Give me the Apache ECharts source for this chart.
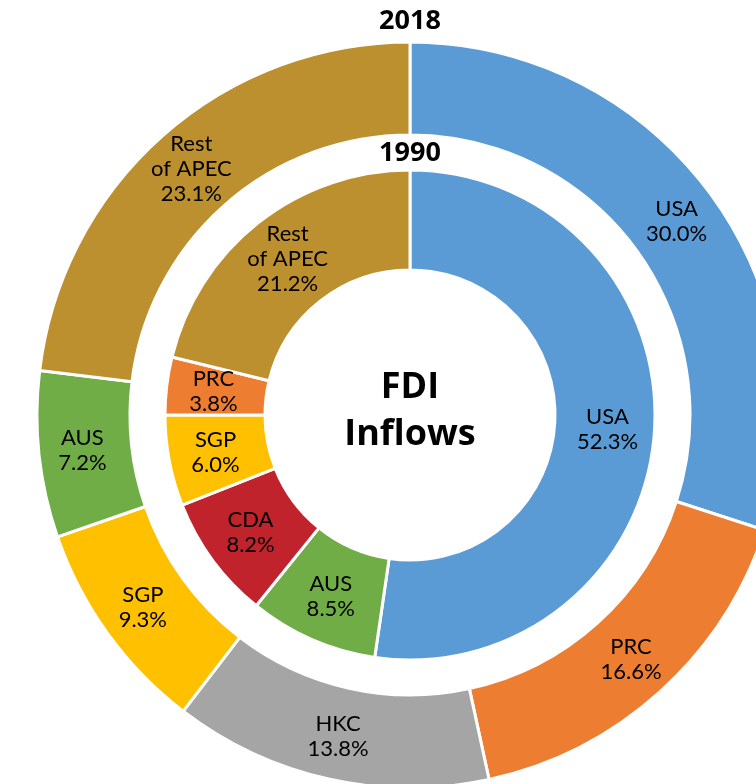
<!DOCTYPE html>
<html>
<head>
<meta charset="utf-8">
<script src="https://cdn.jsdelivr.net/npm/echarts@6/dist/echarts.min.js"></script>
<style>
html,body{margin:0;padding:0;background:#fff;}
#chart{width:756px;height:784px;}
</style>
</head>
<body>
<div id="chart"></div>
<script>
// 2018 (outer ring)
const cats2018 = ['USA', 'PRC', 'HKC', 'SGP', 'AUS', 'Rest\nof APEC'];
const vals2018 = [30.0, 16.6, 13.8, 9.3, 7.2, 23.1];
// 1990 (inner ring)
const cats1990 = ['USA', 'AUS', 'CDA', 'SGP', 'PRC', 'Rest\nof APEC'];
const vals1990 = [52.3, 8.5, 8.2, 6.0, 3.8, 21.2];

const colorMap = {
  'USA': '#5B9BD5',
  'PRC': '#ED7D31',
  'HKC': '#A5A5A5',
  'SGP': '#FFC000',
  'AUS': '#70AD47',
  'CDA': '#C0232C',
  'Rest\nof APEC': '#BD902F'
};

const FONT = 'Lato, "Open Sans", sans-serif';
const TFONT = '"Open Sans", Lato, sans-serif';
const cx = 410, cy = 415;

function mk(cats, vals) {
  return cats.map((c, i) => ({ name: c, value: vals[i], itemStyle: { color: colorMap[c] } }));
}

const labelCfg = {
  show: true,
  position: 'inside',
  formatter: p => p.name + '\n' + p.value.toFixed(1) + '%',
  color: '#000',
  fontFamily: FONT,
  fontSize: 22,
  lineHeight: 25,
  textBorderWidth: 0
};

const chart = echarts.init(document.getElementById('chart'), null, { renderer: 'canvas' });
chart.setOption({
  animation: false,
  series: [
    {
      type: 'pie',
      center: [cx, cy],
      radius: [280, 373],
      startAngle: 90,
      clockwise: true,
      label: labelCfg,
      labelLine: { show: false },
      emphasis: { disabled: true },
      itemStyle: { borderColor: '#fff', borderWidth: 3 },
      data: mk(cats2018, vals2018)
    },
    {
      type: 'pie',
      center: [cx, cy],
      radius: [145, 245],
      startAngle: 90,
      clockwise: true,
      label: labelCfg,
      labelLine: { show: false },
      emphasis: { disabled: true },
      itemStyle: { borderColor: '#fff', borderWidth: 3 },
      data: mk(cats1990, vals1990)
    }
  ],
  graphic: [
    { type: 'text', x: cx, y: 21, style: { text: '2018', fill: '#000', font: 'bold 27px ' + TFONT, textAlign: 'center', textVerticalAlign: 'middle' } },
    { type: 'text', x: cx, y: 153, style: { text: '1990', fill: '#000', font: 'bold 27px ' + TFONT, textAlign: 'center', textVerticalAlign: 'middle' } },
    { type: 'text', x: cx, y: 411, style: { text: 'FDI\nInflows', fill: '#000', font: 'bold 36px ' + TFONT, lineHeight: 47, textAlign: 'center', textVerticalAlign: 'middle' } }
  ]
});
</script>
</body>
</html>
